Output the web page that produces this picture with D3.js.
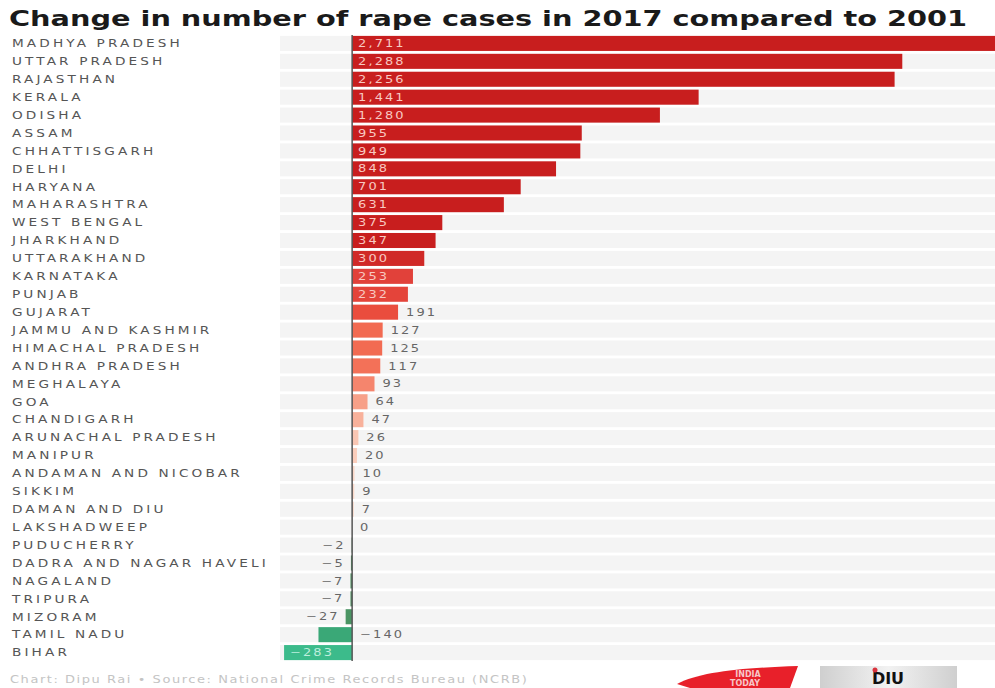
<!DOCTYPE html>
<html>
<head>
<meta charset="utf-8">
<script src="https://cdn.jsdelivr.net/npm/d3@7"></script>
<style>
  body { margin: 0; background: #fff; }
  svg { display: block; }
</style>
</head>
<body>
<div id="chart"></div>
<script>
// Data
const states = [
    "MADHYA PRADESH", "UTTAR PRADESH", "RAJASTHAN", "KERALA", "ODISHA", "ASSAM",
    "CHHATTISGARH", "DELHI", "HARYANA", "MAHARASHTRA", "WEST BENGAL", "JHARKHAND",
    "UTTARAKHAND", "KARNATAKA", "PUNJAB", "GUJARAT", "JAMMU AND KASHMIR",
    "HIMACHAL PRADESH", "ANDHRA PRADESH", "MEGHALAYA", "GOA", "CHANDIGARH",
    "ARUNACHAL PRADESH", "MANIPUR", "ANDAMAN AND NICOBAR", "SIKKIM", "DAMAN AND DIU",
    "LAKSHADWEEP", "PUDUCHERRY", "DADRA AND NAGAR HAVELI", "NAGALAND", "TRIPURA",
    "MIZORAM", "TAMIL NADU", "BIHAR"
];
const changes = [
    2711, 2288, 2256, 1441, 1280, 955,
    949, 848, 701, 631, 375, 347,
    300, 253, 232, 191, 127,
    125, 117, 93, 64, 47,
    26, 20, 10, 9, 7,
    0, -2, -5, -7, -7,
    -27, -140, -283
];
const title = "Change in number of rape cases in 2017 compared to 2001";
const footer = "Chart: Dipu Rai \u2022 Source: National Crime Records Bureau (NCRB)";

const width = 995, height = 688;
const margin = { top: 35, bottom: 27 };
const stretch = 1.3; // the source type is a wide face

const rows = states.map((s, i) => ({ state: s, value: changes[i] }));

const svg = d3.select("#chart").append("svg")
    .attr("width", width)
    .attr("height", height);

// scales
const x = d3.scaleLinear()
    .domain([-300, 2711])
    .range([280, 1004]);

const y = d3.scaleBand()
    .domain(states)
    .range([margin.top, height - margin.bottom])
    .paddingInner(0.16)
    .paddingOuter(0.05);

const posColor = d3.scaleLinear()
    .domain([0, 30, 60, 100, 125, 200, 260, 320, 3000])
    .range(["#fbe3d6", "#f9c2ae", "#f7a48c", "#f47f66", "#f26b52", "#e9493a", "#e0403a", "#c81e1e", "#c81e1e"]);
const negColor = d3.scaleLinear()
    .domain([-283, -140, 0])
    .range(["#3cbb8b", "#3aa877", "#4e8f5e"]);

// title
svg.append("text")
    .attr("x", 9)
    .attr("y", 26)
    .attr("textLength", 958)
    .attr("lengthAdjust", "spacingAndGlyphs")
    .style("font-family", "DejaVu Sans, sans-serif")
    .style("font-weight", "bold")
    .style("font-size", "21px")
    .style("fill", "#1a1a1a")
    .text(title);

// background stripes
svg.append("g").selectAll("rect")
    .data(rows)
    .join("rect")
    .attr("x", x(-300))
    .attr("y", d => y(d.state))
    .attr("width", width - x(-300))
    .attr("height", y.bandwidth())
    .attr("fill", "#f4f4f4");

// state labels
svg.append("g")
    .attr("transform", `scale(${stretch},1)`)
    .selectAll("text")
    .data(rows)
    .join("text")
    .attr("x", 12 / stretch)
    .attr("y", d => y(d.state) + y.bandwidth() / 2)
    .attr("dy", "0.36em")
    .style("font-family", "DejaVu Sans, sans-serif")
    .style("font-size", "10.5px")
    .style("letter-spacing", "2.4px")
    .style("fill", "#555")
    .text(d => d.state);

// bars
svg.append("g").selectAll("rect")
    .data(rows)
    .join("rect")
    .attr("x", d => x(Math.min(0, d.value)))
    .attr("y", d => y(d.state))
    .attr("width", d => Math.abs(x(d.value) - x(0)))
    .attr("height", y.bandwidth())
    .attr("fill", d => d.value >= 0 ? posColor(d.value) : negColor(d.value));

// value labels
const fmt = d3.format(",");
const inside = d => Math.abs(d.value) >= 200;
svg.append("g")
    .attr("transform", `scale(${stretch},1)`)
    .selectAll("text")
    .data(rows)
    .join("text")
    .attr("x", d => {
        let px;
        if (inside(d)) px = d.value > 0 ? x(0) + 6 : x(d.value) + 6;
        else if (d.value >= 0) px = x(d.value) + 8;
        else if (d.value > -100) px = x(d.value) - 6;
        else px = x(0) + 8;
        return px / stretch;
    })
    .attr("y", d => y(d.state) + y.bandwidth() / 2)
    .attr("dy", "0.36em")
    .attr("text-anchor", d => (!inside(d) && d.value < 0 && d.value > -100) ? "end" : "start")
    .style("font-family", "DejaVu Sans, sans-serif")
    .style("font-size", "10px")
    .style("letter-spacing", "1.6px")
    .style("fill", d => inside(d) ? (d.value > 0 ? "#f8c9c2" : "#bfeedd") : "#666")
    .text(d => d.value < 0 ? "\u2212" + fmt(-d.value) : fmt(d.value));

// zero line
svg.append("line")
    .attr("x1", x(0)).attr("x2", x(0))
    .attr("y1", margin.top)
    .attr("y2", height - margin.bottom)
    .attr("stroke", "#555")
    .attr("stroke-width", 1.5);

// footer
svg.append("text")
    .attr("transform", `scale(${stretch},1)`)
    .attr("x", 10 / stretch)
    .attr("y", 683)
    .style("font-family", "DejaVu Sans, sans-serif")
    .style("font-size", "10px")
    .style("letter-spacing", "1.2px")
    .style("fill", "#c4c4c4")
    .text(footer);

// India Today logo (rough)
const logo = svg.append("g");
logo.append("path")
    .attr("d", "M677,684 C700,672 740,668 798,666 L790,688 L690,688 Z")
    .attr("fill", "#e8202a");
logo.append("text")
    .attr("x", 748).attr("y", 677)
    .attr("text-anchor", "middle")
    .style("font-family", "DejaVu Sans, sans-serif")
    .style("font-weight", "bold")
    .style("font-size", "8px")
    .style("fill", "#f7c6c8")
    .text("INDIA");
logo.append("text")
    .attr("x", 745).attr("y", 686)
    .attr("text-anchor", "middle")
    .style("font-family", "DejaVu Sans, sans-serif")
    .style("font-weight", "bold")
    .style("font-size", "8px")
    .style("fill", "#f7c6c8")
    .text("TODAY");

// DIU logo (rough)
const grad = svg.append("defs").append("linearGradient")
    .attr("id", "diuGrad").attr("x1", 0).attr("x2", 1);
grad.append("stop").attr("offset", "0%").attr("stop-color", "#cfcfcf");
grad.append("stop").attr("offset", "50%").attr("stop-color", "#f2f2f2");
grad.append("stop").attr("offset", "100%").attr("stop-color", "#cfcfcf");
svg.append("rect")
    .attr("x", 820).attr("y", 666)
    .attr("width", 137).attr("height", 22)
    .attr("fill", "url(#diuGrad)");
svg.append("text")
    .attr("x", 888).attr("y", 684)
    .attr("text-anchor", "middle")
    .style("font-family", "DejaVu Sans, sans-serif")
    .style("font-weight", "bold")
    .style("font-size", "16px")
    .style("fill", "#111")
    .text("DIU");
svg.append("circle")
    .attr("cx", 875).attr("cy", 670).attr("r", 2.5)
    .attr("fill", "#d8323c");
</script>
</body>
</html>
